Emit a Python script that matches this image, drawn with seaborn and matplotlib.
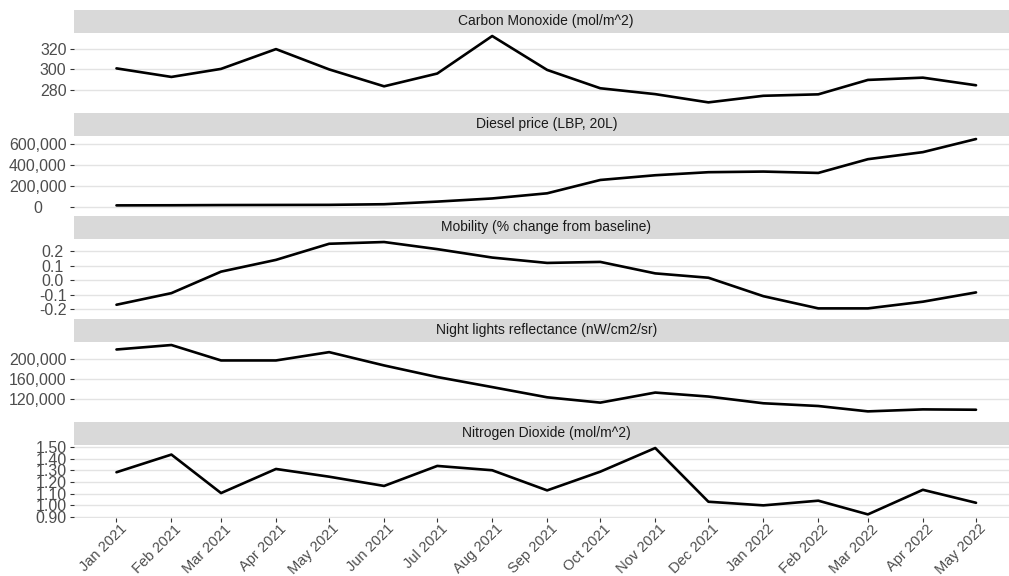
import pandas as pd
import matplotlib
matplotlib.use("Agg")
import matplotlib.pyplot as plt
import matplotlib.dates as mdates
import matplotlib.ticker as mticker
import matplotlib.transforms as mtransforms
import seaborn as sns

# monthly values
months = pd.date_range("2021-01-01", "2022-05-01", freq="MS")

carbon_monoxide = [301, 292.7, 300.5, 319.7, 300, 283.6, 296, 332.4, 299.5,
                   281.7, 276, 268, 274.4, 275.8, 289.8, 292, 284.6]
diesel_price = [19000, 20000, 22000, 23000, 24000, 30000, 55000, 85000, 134000,
                261000, 306000, 335000, 341000, 328000, 459000, 526000, 651000]
mobility = [-0.17, -0.09, 0.058, 0.139, 0.25, 0.262, 0.213, 0.155, 0.118,
            0.125, 0.046, 0.016, -0.111, -0.195, -0.195, -0.149, -0.085]
night_lights = [220000, 229000, 198000, 198000, 214700, 188000, 164700, 144500, 124000,
                113300, 133500, 125500, 112000, 106500, 95700, 99700, 99000]
nitrogen_dioxide = [1.283, 1.434, 1.105, 1.311, 1.245, 1.166, 1.337, 1.30, 1.128,
                    1.288, 1.49, 1.031, 1.00, 1.04, 0.923, 1.133, 1.022]

titles = ["Carbon Monoxide (mol/m^2)", "Diesel price (LBP, 20L)",
          "Mobility (% change from baseline)", "Night lights reflectance (nW/cm2/sr)",
          "Nitrogen Dioxide (mol/m^2)"]
series = [carbon_monoxide, diesel_price, mobility, night_lights, nitrogen_dioxide]
tick_steps = [20, 200000, 0.1, 40000, 0.1]
tick_fmts = ["{x:.0f}", "{x:,.0f}", "{x:.1f}", "{x:,.0f}", "{x:.2f}"]

df = pd.concat([pd.DataFrame({"date": months, "value": v, "variable": t})
                for t, v in zip(titles, series)])

sns.set_theme(style="white")
plt.rcParams["font.family"] = ["Liberation Sans", "DejaVu Sans"]
plt.rcParams["axes.unicode_minus"] = False

W, H = 1009, 576
fig = plt.figure(figsize=(W / 100, H / 100), dpi=100)

left_px, right_px = 73.5, 1019
strip_h, panel_h, period = 23, 73, 103

span = months[-1] - months[0]
xlim = (months[0] - span * 0.05, months[-1] + span * 0.05)

axes = []
for i, (title, step, fmt) in enumerate(zip(titles, tick_steps, tick_fmts)):
    strip_top = 9.7 + i * period
    panel_top = strip_top + strip_h
    panel_bot = panel_top + panel_h

    sax = fig.add_axes([left_px / W, 1 - panel_top / H, (right_px - left_px) / W, strip_h / H])
    sax.set_facecolor("#D9D9D9")
    sax.set_xticks([])
    sax.set_yticks([])
    for s in sax.spines.values():
        s.set_visible(False)
    sax.text(0.5, 0.5, title, ha="center", va="center", fontsize=10,
             color="#1A1A1A", transform=sax.transAxes)

    ax = fig.add_axes([left_px / W, 1 - panel_bot / H, (right_px - left_px) / W, panel_h / H])
    sub = df[df["variable"] == title]
    sns.lineplot(data=sub, x="date", y="value", ax=ax, color="black", linewidth=1.9)
    ax.set_xlim(xlim)
    ax.margins(y=0.05)
    ax.yaxis.set_major_locator(mticker.MultipleLocator(step))
    ax.yaxis.set_major_formatter(mticker.StrMethodFormatter(fmt))
    ax.grid(axis="y", color="#E3E3E3", linewidth=1.0)
    ax.grid(axis="x", visible=False)
    ax.set_axisbelow(True)
    for s in ax.spines.values():
        s.set_visible(False)
    ax.set_xlabel("")
    ax.set_ylabel("")
    ax.tick_params(axis="y", left=True, length=3, width=0.8, color="#333333",
                   labelsize=11.5, labelcolor="#4D4D4D", pad=2)
    ax.xaxis.set_major_locator(mdates.MonthLocator())
    ax.xaxis.set_major_formatter(mdates.DateFormatter("%b %Y"))
    if i < len(titles) - 1:
        ax.tick_params(axis="x", bottom=False, labelbottom=False)
    else:
        ax.tick_params(axis="x", bottom=True, length=3, width=0.8, color="#333333",
                       labelsize=10.5, labelcolor="#4D4D4D", pad=1.5)
        shift = mtransforms.ScaledTranslation(3 / 100, 2 / 100, fig.dpi_scale_trans)
        for lab in ax.get_xticklabels():
            lab.set_rotation(45)
            lab.set_ha("right")
            lab.set_va("top")
            lab.set_rotation_mode("anchor")
            lab.set_transform(lab.get_transform() + shift)
    axes.append(ax)

# centre the y labels within their column, like ggplot's hjust = 0.5
fig.canvas.draw()
renderer = fig.canvas.get_renderer()
for ax in axes:
    labs = [l for l in ax.get_yticklabels() if l.get_text()]
    ylo, yhi = ax.get_ylim()
    labs = [l for l in labs if ylo <= l.get_position()[1] <= yhi]
    max_w = max(l.get_window_extent(renderer).width for l in labs)
    ax.tick_params(axis="y", pad=2 + max_w / 2 * 72 / 100)
    for l in ax.get_yticklabels():
        l.set_ha("center")

fig.savefig("out.png", dpi=100)
